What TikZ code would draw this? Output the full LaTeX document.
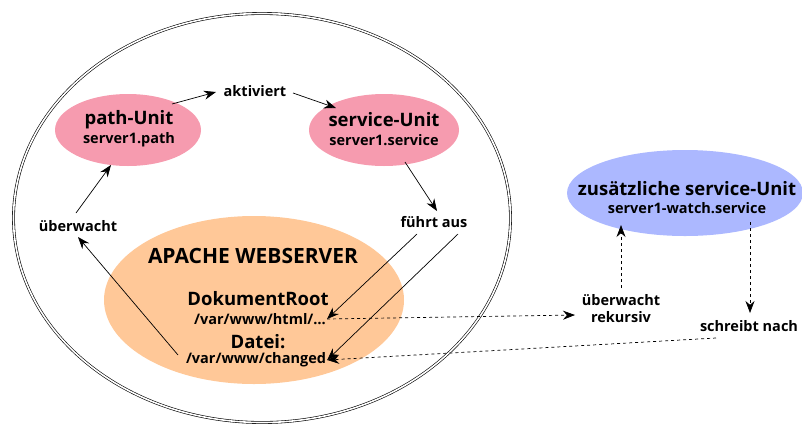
\documentclass[tikz,border=0pt]{standalone}
\usepackage{fontspec}
\setmainfont{Open Sans}[BoldFont={* Bold}]
\usetikzlibrary{shapes.geometric,arrows.meta}
\definecolor{pinku}{RGB}{246,155,175}
\definecolor{peach}{RGB}{255,200,152}
\definecolor{blueu}{RGB}{172,184,255}
\begin{document}
\begin{tikzpicture}[x=1pt,y=-1pt,
  blob/.style={ellipse,inner sep=0pt},
  big/.style={inner sep=0pt,font=\bfseries\fontsize{18.5}{20}\selectfont},
  small/.style={inner sep=0pt,font=\bfseries\fontsize{14.5}{16}\selectfont},
  lbl/.style={inner sep=1pt,align=center,font=\bfseries\fontsize{14.5}{17}\selectfont},
  arr/.style={-{Stealth[length=12pt,width=9pt]},line width=0.7pt},
  darr/.style={-{Stealth[length=12pt,width=9pt]},line width=0.7pt,dash pattern=on 3pt off 3pt}]
\useasboundingbox (0,0) rectangle (802,426);
% outer double ellipse
\node[blob,draw,double,double distance=1.6pt,line width=0.6pt,minimum width=497pt,minimum height=409pt] (outer) at (262,218) {};
% units
\node[blob,fill=pinku,minimum width=146pt,minimum height=72pt] (path) at (128,130) {};
\node[big] (patht) at (129,120) {path-Unit};
\node[small] (paths) at (129,140) {server1.path};
\node[blob,fill=pinku,minimum width=150pt,minimum height=72pt] (serv) at (384,130) {};
\node[big] (servt) at (384,120) {service-Unit};
\node[small] (servs) at (384,140) {server1.service};
\node[blob,fill=peach,minimum width=300pt,minimum height=168pt] (apache) at (254,300) {};
\node[inner sep=0pt,font=\bfseries\fontsize{21}{23}\selectfont] (apt) at (253,256) {APACHE WEBSERVER};
\node[big] (dr) at (258,299) {DokumentRoot};
\node[small,inner sep=1pt] (html) at (260,319) {/var/www/html/…};
\node[big] (datei) at (258,342) {Datei:};
\node[small,inner sep=1pt] (chg) at (256,360) {/var/www/changed};
\node[blob,fill=blueu,minimum width=236pt,minimum height=86pt] (watch) at (685,193) {};
\node[big] (watcht) at (687,189) {zusätzliche service-Unit};
\node[small] (watchs) at (687,208) {server1-watch.service};
% labels
\node[lbl] (akt) at (255,91) {aktiviert};
\node[lbl] (uew) at (78,226) {überwacht};
\node[lbl] (fa) at (434,222) {führt aus};
\node[lbl] (rek) at (621,309) {überwacht\\rekursiv};
\node[lbl] (sn) at (749,326) {schreibt nach};
% coordinates
\coordinate (p1) at (172,104);
\coordinate (a1) at (216,92);
\coordinate (s1) at (293,93);
\coordinate (s1e) at (336,108);
\coordinate (s2) at (405,162);
\coordinate (fae) at (437,211);
\coordinate (f1) at (417,234);
\coordinate (f2) at (458,234);
\coordinate (c1) at (178,355);
\coordinate (ue) at (78,237);
\coordinate (u1) at (76,213);
\coordinate (pe) at (111,165);
\coordinate (re) at (575,315);
\coordinate (rs) at (621,288);
\coordinate (we) at (621,225);
\coordinate (ws) at (750,222);
\coordinate (sne) at (750,313);
\coordinate (sn1) at (716,338);
% arrows
\draw[arr] (p1) -- (a1);
\draw[arr] (s1) -- (s1e);
\draw[arr] (s2) -- (fae);
\draw[arr] (f1) -- (html.east);
\draw[arr] (f2) -- (chg.east);
\draw[arr] (c1) -- (ue);
\draw[arr] (u1) -- (pe);
\draw[darr] (html.east) -- (re);
\draw[darr] (rs) -- (we);
\draw[darr] (ws) -- (sne);
\draw[darr] (sn1) -- (chg.east);
\end{tikzpicture}
\end{document}
